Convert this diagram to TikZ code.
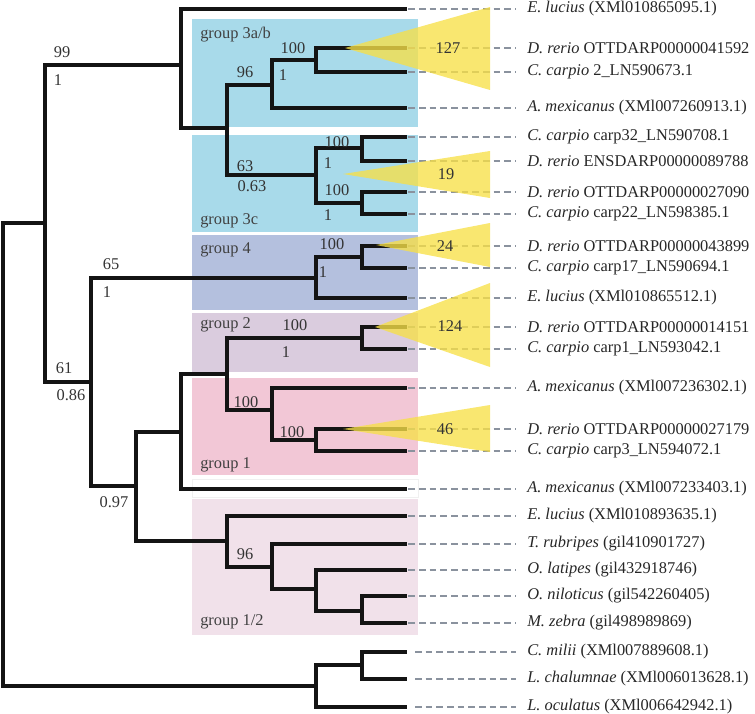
\documentclass[tikz,border=0pt]{standalone}
\usepackage{fontspec}
\setmainfont{Liberation Serif}
\usetikzlibrary{math}
\definecolor{grpblue}{RGB}{168,218,234}
\definecolor{grpfour}{RGB}{180,192,222}
\definecolor{grptwo}{RGB}{218,204,222}
\definecolor{grpone}{RGB}{242,199,214}
\definecolor{grponetwo}{RGB}{241,225,234}
\definecolor{cladeyellow}{RGB}{247,224,72}
\definecolor{dashgrey}{RGB}{138,146,158}

\tikzset{
  branch/.style={line width=2.5pt, line join=miter, black!92},
  leafdash/.style={dashgrey, line width=1.1pt, dash pattern=on 5pt off 3pt, shorten >=8pt, shorten <=1pt},
  leaf/.style={anchor=west, inner sep=0pt, text=black!85},
  support/.style={inner sep=0pt, text=black!80},
  grouplabel/.style={anchor=west, inner sep=0pt, text=black!75},
  collapsed/.style={fill=cladeyellow, opacity=0.78},
}

\begin{document}
\begin{tikzpicture}[x=0.75pt, y=-0.75pt, font=\fontsize{12.3pt}{14pt}\selectfont]
\tikzmath{
\tip=407; \lab=527; \bl=192; \br=418; \base=490;
}
\useasboundingbox (0,0) rectangle (755,713);

% group boxes
\fill[grpblue] (\bl,19) rectangle (\br,127);
\fill[grpblue] (\bl,135) rectangle (\br,232);
\fill[grpfour] (\bl,235) rectangle (\br,310);
\fill[grptwo] (\bl,313) rectangle (\br,372);
\fill[grpone] (\bl,378) rectangle (\br,475);
\draw[black!6, fill=white] (\bl,479) rectangle (\br,497);
\fill[grponetwo] (\bl,499) rectangle (\br,635);

\node[grouplabel] (g3ab) at (200,35) {group 3a/b};
\node[grouplabel] (g3c) at (200,221) {group 3c};
\node[grouplabel] (g4) at (200,250) {group 4};
\node[grouplabel] (g2) at (200,325) {group 2};
\node[grouplabel] (g1) at (200,465) {group 1};
\node[grouplabel] (g12) at (200,622) {group 1/2};

% inner nodes
\coordinate (root) at (3,454);
\coordinate (a) at (45,223);
\coordinate (b) at (181,65);
\coordinate (d) at (227,128);
\coordinate (e) at (272,85);
\coordinate (g) at (316,60);
\coordinate (f) at (316,175);
\coordinate (h) at (362,148);
\coordinate (i) at (362,203);
\coordinate (c) at (91,382);
\coordinate (j) at (316,278);
\coordinate (m) at (362,257);
\coordinate (k) at (136,486);
\coordinate (n) at (181,432);
\coordinate (p) at (227,374);
\coordinate (q) at (362,338);
\coordinate (s) at (272,410);
\coordinate (u) at (316,440);
\coordinate (o) at (227,541);
\coordinate (v) at (272,567);
\coordinate (w) at (316,589);
\coordinate (z) at (362,611);
\coordinate (y) at (316,686);
\coordinate (yy) at (362,665);

% tips
\coordinate (t1) at (\tip,9);
\coordinate (t2) at (\tip,48);
\coordinate (t3) at (\tip,72);
\coordinate (t4) at (\tip,108);
\coordinate (t5) at (\tip,137);
\coordinate (t6) at (\tip,161);
\coordinate (t7) at (\tip,192);
\coordinate (t8) at (\tip,214);
\coordinate (t9) at (\tip,246);
\coordinate (t10) at (\tip,268);
\coordinate (t11) at (\tip,298);
\coordinate (t12) at (\tip,327);
\coordinate (t13) at (\tip,349);
\coordinate (t14) at (\tip,388);
\coordinate (t15) at (\tip,429);
\coordinate (t16) at (\tip,451);
\coordinate (t17) at (\tip,489);
\coordinate (t18) at (\tip,516);
\coordinate (t19) at (\tip,544);
\coordinate (t20) at (\tip,570);
\coordinate (t21) at (\tip,596);
\coordinate (t22) at (\tip,623);
\coordinate (t23) at (\tip,652);
\coordinate (t24) at (\tip,679);
\coordinate (t25) at (\tip,707);

% branches
\draw[branch] (root) |- (a);
\draw[branch] (root) |- (y);
\draw[branch] (a) |- (b);
\draw[branch] (a) |- (c);
\draw[branch] (b) |- (t1);
\draw[branch] (b) |- (d);
\draw[branch] (d) |- (e);
\draw[branch] (d) |- (f);
\draw[branch] (e) |- (g);
\draw[branch] (e) |- (t4);
\draw[branch] (g) |- (t2);
\draw[branch] (g) |- (t3);
\draw[branch] (f) |- (h);
\draw[branch] (f) |- (i);
\draw[branch] (h) |- (t5);
\draw[branch] (h) |- (t6);
\draw[branch] (i) |- (t7);
\draw[branch] (i) |- (t8);
\draw[branch] (c) |- (j);
\draw[branch] (c) |- (k);
\draw[branch] (j) |- (m);
\draw[branch] (j) |- (t11);
\draw[branch] (m) |- (t9);
\draw[branch] (m) |- (t10);
\draw[branch] (k) |- (n);
\draw[branch] (k) |- (o);
\draw[branch] (n) |- (p);
\draw[branch] (n) |- (t17);
\draw[branch] (p) |- (q);
\draw[branch] (p) |- (s);
\draw[branch] (q) |- (t12);
\draw[branch] (q) |- (t13);
\draw[branch] (s) |- (t14);
\draw[branch] (s) |- (u);
\draw[branch] (u) |- (t15);
\draw[branch] (u) |- (t16);
\draw[branch] (o) |- (t18);
\draw[branch] (o) |- (v);
\draw[branch] (v) |- (t19);
\draw[branch] (v) |- (w);
\draw[branch] (w) |- (t20);
\draw[branch] (w) |- (z);
\draw[branch] (z) |- (t21);
\draw[branch] (z) |- (t22);
\draw[branch] (y) |- (yy);
\draw[branch] (y) |- (t25);
\draw[branch] (yy) |- (t23);
\draw[branch] (yy) |- (t24);

% leaf labels
\node[leaf] (l1) at (\lab,9) {\textit{E. lucius} (XMl010865095.1)};
\node[leaf] (l2) at (\lab,48) {\textit{D. rerio} OTTDARP00000041592};
\node[leaf] (l3) at (\lab,72) {\textit{C. carpio} 2\_LN590673.1};
\node[leaf] (l4) at (\lab,108) {\textit{A. mexicanus} (XMl007260913.1)};
\node[leaf] (l5) at (\lab,137) {\textit{C. carpio} carp32\_LN590708.1};
\node[leaf] (l6) at (\lab,161) {\textit{D. rerio} ENSDARP00000089788};
\node[leaf] (l7) at (\lab,192) {\textit{D. rerio} OTTDARP00000027090};
\node[leaf] (l8) at (\lab,214) {\textit{C. carpio} carp22\_LN598385.1};
\node[leaf] (l9) at (\lab,246) {\textit{D. rerio} OTTDARP00000043899};
\node[leaf] (l10) at (\lab,268) {\textit{C. carpio} carp17\_LN590694.1};
\node[leaf] (l11) at (\lab,298) {\textit{E. lucius} (XMl010865512.1)};
\node[leaf] (l12) at (\lab,327) {\textit{D. rerio} OTTDARP00000014151};
\node[leaf] (l13) at (\lab,349) {\textit{C. carpio} carp1\_LN593042.1};
\node[leaf] (l14) at (\lab,388) {\textit{A. mexicanus} (XMl007236302.1)};
\node[leaf] (l15) at (\lab,429) {\textit{D. rerio} OTTDARP00000027179};
\node[leaf] (l16) at (\lab,451) {\textit{C. carpio} carp3\_LN594072.1};
\node[leaf] (l17) at (\lab,489) {\textit{A. mexicanus} (XMl007233403.1)};
\node[leaf] (l18) at (\lab,516) {\textit{E. lucius} (XMl010893635.1)};
\node[leaf] (l19) at (\lab,544) {\textit{T. rubripes} (gil410901727)};
\node[leaf] (l20) at (\lab,570) {\textit{O. latipes} (gil432918746)};
\node[leaf] (l21) at (\lab,596) {\textit{O. niloticus} (gil542260405)};
\node[leaf] (l22) at (\lab,623) {\textit{M. zebra} (gil498989869)};
\node[leaf] (l23) at (\lab,652) {\textit{C. milii} (XMl007889608.1)};
\node[leaf] (l24) at (\lab,679) {\textit{L. chalumnae} (XMl006013628.1)};
\node[leaf] (l25) at (\lab,707) {\textit{L. oculatus} (XMl006642942.1)};

% dashed leaders
\draw[leafdash] (t1) -- (t1 -| l1.west);
\draw[leafdash] (t2) -- (t2 -| l2.west);
\draw[leafdash] (t3) -- (t3 -| l3.west);
\draw[leafdash] (t4) -- (t4 -| l4.west);
\draw[leafdash] (t5) -- (t5 -| l5.west);
\draw[leafdash] (t6) -- (t6 -| l6.west);
\draw[leafdash] (t7) -- (t7 -| l7.west);
\draw[leafdash] (t8) -- (t8 -| l8.west);
\draw[leafdash] (t9) -- (t9 -| l9.west);
\draw[leafdash] (t10) -- (t10 -| l10.west);
\draw[leafdash] (t11) -- (t11 -| l11.west);
\draw[leafdash] (t12) -- (t12 -| l12.west);
\draw[leafdash] (t13) -- (t13 -| l13.west);
\draw[leafdash] (t14) -- (t14 -| l14.west);
\draw[leafdash] (t15) -- (t15 -| l15.west);
\draw[leafdash] (t16) -- (t16 -| l16.west);
\draw[leafdash] (t17) -- (t17 -| l17.west);
\draw[leafdash] (t18) -- (t18 -| l18.west);
\draw[leafdash] (t19) -- (t19 -| l19.west);
\draw[leafdash] (t20) -- (t20 -| l20.west);
\draw[leafdash] (t21) -- (t21 -| l21.west);
\draw[leafdash] (t22) -- (t22 -| l22.west);
\draw[leafdash, shorten <=6pt] (t23) -- (t23 -| l23.west);
\draw[leafdash, shorten <=6pt] (t24) -- (t24 -| l24.west);
\draw[leafdash, shorten <=6pt] (t25) -- (t25 -| l25.west);

% collapsed clades
\fill[collapsed] (345,48) -- (\base,7) -- (\base,90) -- cycle;
\fill[collapsed] (343,174) -- (\base,151) -- (\base,198) -- cycle;
\fill[collapsed] (376,245) -- (\base,223) -- (\base,267) -- cycle;
\fill[collapsed] (375,327) -- (\base,283) -- (\base,367) -- cycle;
\fill[collapsed] (343,429) -- (\base,405) -- (\base,452) -- cycle;
\node[support] (c127) at (448,48) {127};
\node[support] (c19) at (446,174) {19};
\node[support] (c24) at (445,246) {24};
\node[support] (c124) at (450,326) {124};
\node[support] (c46) at (445,429) {46};

% support values
\node[support] (s99) at (62,52) {99};
\node[support] (p99) at (58,80) {1};
\node[support] (s96) at (245,72) {96};
\node[support] (s100a) at (293,48) {100};
\node[support] (p100a) at (283,75) {1};
\node[support] (s63) at (245,166) {63};
\node[support] (p63) at (252,186) {0.63};
\node[support] (s100b) at (337,142) {100};
\node[support] (p100b) at (328,163) {1};
\node[support] (s100c) at (337,190) {100};
\node[support] (p100c) at (328,215) {1};
\node[support] (s65) at (111,264) {65};
\node[support] (p65) at (107,292) {1};
\node[support] (s100d) at (332,244) {100};
\node[support] (p100d) at (323,272) {1};
\node[support] (s61) at (64,368) {61};
\node[support] (p61) at (71,395) {0.86};
\node[support] (s100e) at (295,325) {100};
\node[support] (p100e) at (286,352) {1};
\node[support] (s100f) at (246,402) {100};
\node[support] (s100g) at (292,432) {100};
\node[support] (p097) at (114,502) {0.97};
\node[support] (s96b) at (245,554) {96};

\end{tikzpicture}
\end{document}
